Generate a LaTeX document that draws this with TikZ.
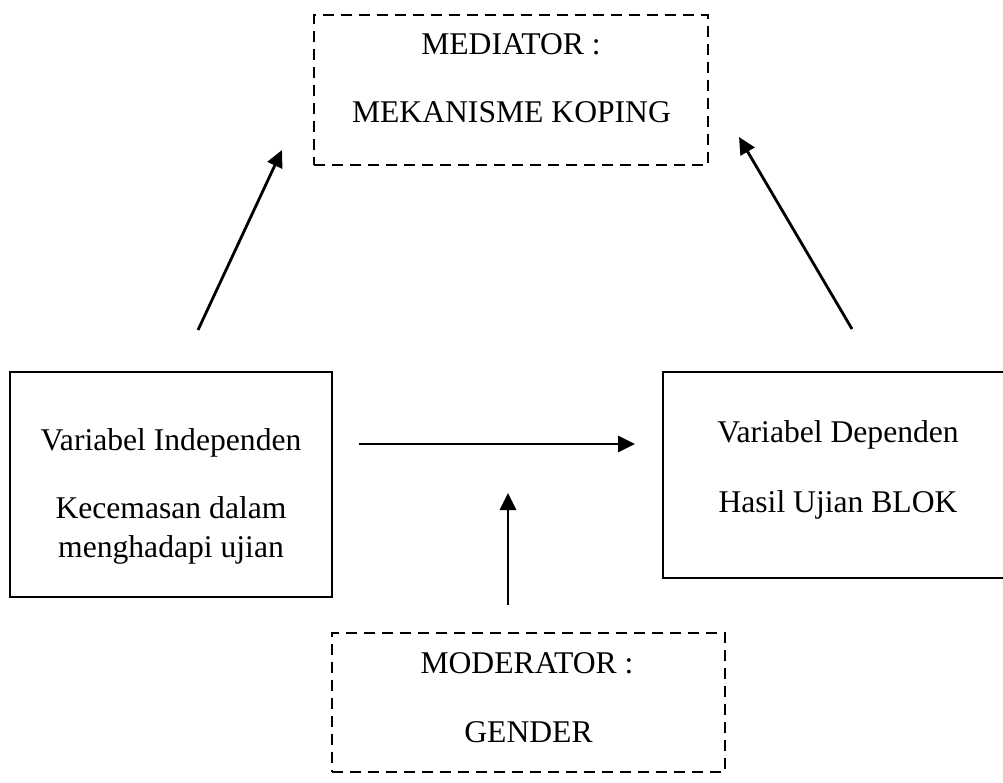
\documentclass[tikz,border=0pt]{standalone}
\usepackage{fontspec}
\setmainfont{Liberation Serif}
\usetikzlibrary{arrows.meta}
\begin{document}
\begin{tikzpicture}[x=0.02cm,y=-0.02cm,
  box/.style={draw, line width=1.2pt, inner sep=0, outer sep=0},
  dbox/.style={draw, line width=1.5pt, dash pattern=on 0.22cm off 0.14cm, inner sep=0, outer sep=0},
  txt/.style={anchor=base, inner sep=0, font=\fontsize{18}{22}\selectfont},
  arr/.style={line width=1.6pt, -{Triangle[length=0.34cm,width=0.32cm]}}]
\useasboundingbox (0,0) rectangle (1003,782);
\clip (0,0) rectangle (1003,782);
% boxes
\node[dbox, minimum width=7.88cm, minimum height=3.0cm] (med) at (511,90) {};
\node[box, minimum width=6.44cm, minimum height=4.5cm] (ind) at (171,484.5) {};
\node[box, minimum width=7.0cm, minimum height=4.12cm] (dep) at (838,475) {};
\node[dbox, minimum width=7.86cm, minimum height=2.78cm] (mod) at (528.5,702.5) {};
% texts
\node[txt] (medA) at (511,54) {MEDIATOR :};
\node[txt] (medB) at (511.5,122) {MEKANISME KOPING};
\node[txt] (indA) at (171,450) {Variabel Independen};
\node[txt] (indB) at (171,518) {Kecemasan dalam};
\node[txt] (indC) at (171,557) {menghadapi ujian};
\node[txt] (depA) at (838,442) {Variabel Dependen};
\node[txt] (depB) at (838,512) {Hasil Ujian BLOK};
\node[txt] (modA) at (527,673) {MODERATOR :};
\node[txt] (modB) at (528.5,742) {GENDER};
% arrow ends
\coordinate (a1s) at (198,330);
\coordinate (a1e) at (282,150);
\coordinate (a2s) at (852,329);
\coordinate (a2e) at (739,137);
\coordinate (a3s) at (359,444);
\coordinate (a3e) at (635,444);
\coordinate (a4s) at (508,605);
\coordinate (a4e) at (508,493);
\draw[arr] (a1s) -- (a1e);
\draw[arr] (a2s) -- (a2e);
\draw[arr] (a3s) -- (a3e);
\draw[arr] (a4s) -- (a4e);
\end{tikzpicture}
\end{document}
